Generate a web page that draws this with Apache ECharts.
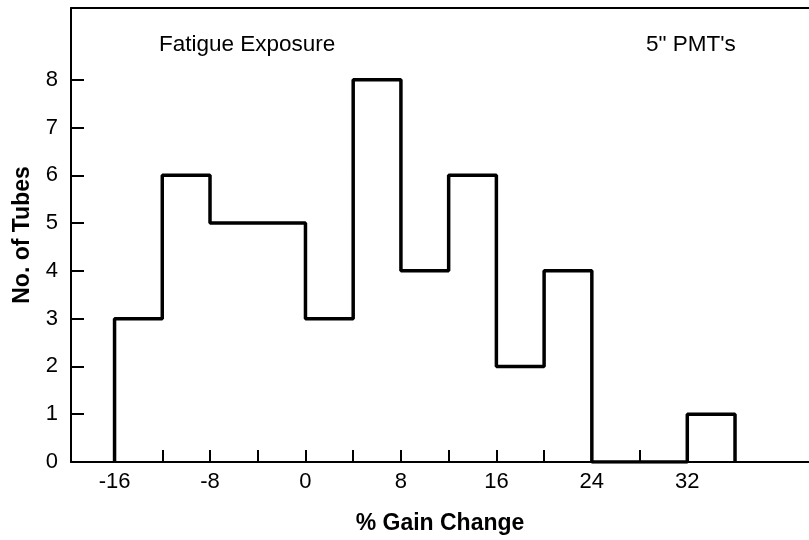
<!DOCTYPE html>
<html>
<head>
<meta charset="utf-8">
<script src="https://cdn.jsdelivr.net/npm/echarts@6/dist/echarts.min.js"></script>
<style>
  html, body { margin: 0; padding: 0; background: #fff; }
  #chart { width: 809px; height: 540px; }
</style>
</head>
<body>
<div id="chart"></div>
<script>
// histogram bins: left edges + counts, bin width 4
const binEdges = [-16, -12, -8, -4, 0, 4, 8, 12, 16, 20, 24, 28, 32, 36]
const tubeCounts = [3, 6, 5, 5, 3, 8, 4, 6, 2, 4, 0, 0, 1]
const xTickValues = [-16, -12, -8, -4, 0, 4, 8, 12, 16, 20, 24, 28, 32]
const xLabelValues = [-16, -8, 0, 8, 16, 24, 32]
const yTickValues = [0, 1, 2, 3, 4, 5, 6, 7, 8]

// outline of the histogram as corner points
const outline = [[binEdges[0], 0]]
tubeCounts.forEach((c, i) => {
  outline.push([binEdges[i], c])
  outline.push([binEdges[i + 1], c])
})
outline.push([binEdges[binEdges.length - 1], 0])

const font = '"Liberation Sans", Arial, Helvetica, sans-serif'
const chart = echarts.init(document.getElementById('chart'))

const option = {
  animation: false,
  backgroundColor: '#fff',
  textStyle: { fontFamily: font, color: '#000' },
  title: [
    { text: 'Fatigue Exposure', left: 154, top: 28,
      textStyle: { fontFamily: font, fontSize: 22.5, fontWeight: 'normal', color: '#000' } },
    { text: '5" PMT\'s', left: 641, top: 28,
      textStyle: { fontFamily: font, fontSize: 22.5, fontWeight: 'normal', color: '#000' } }
  ],
  grid: { left: 71, right: 0, top: 8, bottom: 78 },
  xAxis: [
    {
      type: 'value',
      min: -19.65,
      max: 42.2,
      name: '% Gain Change',
      nameLocation: 'middle',
      nameGap: 50,
      nameTextStyle: { fontFamily: font, fontSize: 23, fontWeight: 'bold', color: '#000' },
      axisLine: { onZero: false, lineStyle: { color: '#000', width: 2 } },
      axisTick: { inside: true, length: 12, customValues: xTickValues, lineStyle: { color: '#000', width: 2 } },
      axisLabel: { customValues: xLabelValues, margin: 9, fontFamily: font, fontSize: 22, color: '#000' },
      splitLine: { show: false }
    },
    {
      type: 'value',
      position: 'top',
      min: -19.65,
      max: 42.2,
      axisLine: { show: true, onZero: false, lineStyle: { color: '#000', width: 2 } },
      axisTick: { show: false },
      axisLabel: { show: false },
      splitLine: { show: false }
    }
  ],
  yAxis: {
    type: 'value',
    min: 0,
    max: 9.5,
    name: 'No. of Tubes',
    nameLocation: 'middle',
    nameGap: 37,
    nameTextStyle: { fontFamily: font, fontSize: 23, fontWeight: 'bold', color: '#000' },
    axisLine: { show: true, onZero: false, lineStyle: { color: '#000', width: 2 } },
    axisTick: { show: true, inside: true, length: 13, customValues: yTickValues, lineStyle: { color: '#000', width: 2 } },
    axisLabel: { customValues: yTickValues, margin: 13, fontFamily: font, fontSize: 22, color: '#000' },
    splitLine: { show: false }
  },
  series: [
    {
      type: 'line',
      data: outline,
      symbol: 'none',
      lineStyle: { color: '#000', width: 3.5 },
      z: 5
    }
  ]
}

chart.setOption(option)
</script>
</body>
</html>
